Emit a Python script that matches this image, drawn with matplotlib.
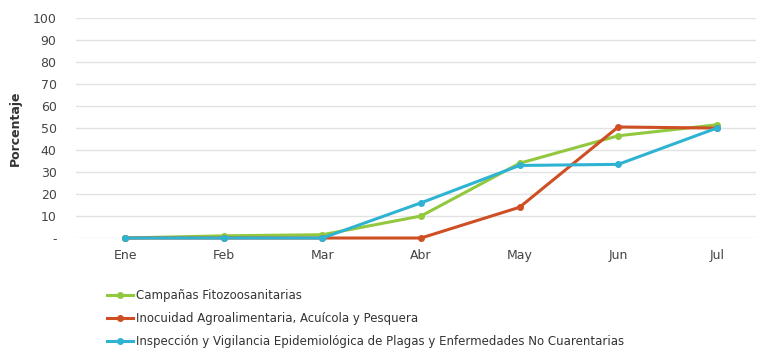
import numpy as np
import matplotlib.pyplot as plt

months = ['Ene', 'Feb', 'Mar', 'Abr', 'May', 'Jun', 'Jul']
campanas = [0, 1, 1.5, 10, 34, 46.5, 51.5]
inocuidad = [0, 0, 0, 0, 14, 50.5, 50]
inspeccion = [0, 0, 0, 16, 33, 33.5, 50]

labels = ['Campañas Fitozoosanitarias',
          'Inocuidad Agroalimentaria, Acuícola y Pesquera',
          'Inspección y Vigilancia Epidemiológica de Plagas y Enfermedades No Cuarentarias']
colors = ['#92C83E', '#CF4F25', '#2FB3D3']

fig = plt.figure(figsize=(7.6, 3.49), dpi=100)
ax = fig.add_axes([0.1, 0.318, 0.895, 0.63])

x = np.arange(len(months))
lines = []
for series, lab, col in zip([campanas, inocuidad, inspeccion], labels, colors):
    ln, = ax.plot(x, series, color=col, linewidth=2.2, marker='o', markersize=4,
                  label=lab, clip_on=False, zorder=3)
    lines.append(ln)

ax.set_xlim(-0.5, 6.4)
ax.set_ylim(0, 100)
ax.set_yticks(np.arange(0, 101, 10))
ax.set_yticklabels(['-'] + [str(v) for v in range(10, 101, 10)])
ax.set_xticks(x)
ax.set_xticklabels(months)
ax.tick_params(length=0, labelsize=9, colors='#444444', pad=8)
ax.tick_params(axis='y', pad=14)
ax.grid(axis='y', color='#e2e2e2', linewidth=1)
ax.set_axisbelow(True)
for s in ax.spines.values():
    s.set_visible(False)

ax.set_ylabel('Porcentaje', fontsize=9, fontweight='bold', color='#333333', labelpad=8)

fig.legend(handles=lines, loc='upper left', bbox_to_anchor=(0.135, 0.185),
           frameon=False, fontsize=8.5, handlelength=2.2, handletextpad=0.2,
           labelspacing=0.85, borderaxespad=0, labelcolor='#333333')

fig.savefig('out.png', dpi=100)
